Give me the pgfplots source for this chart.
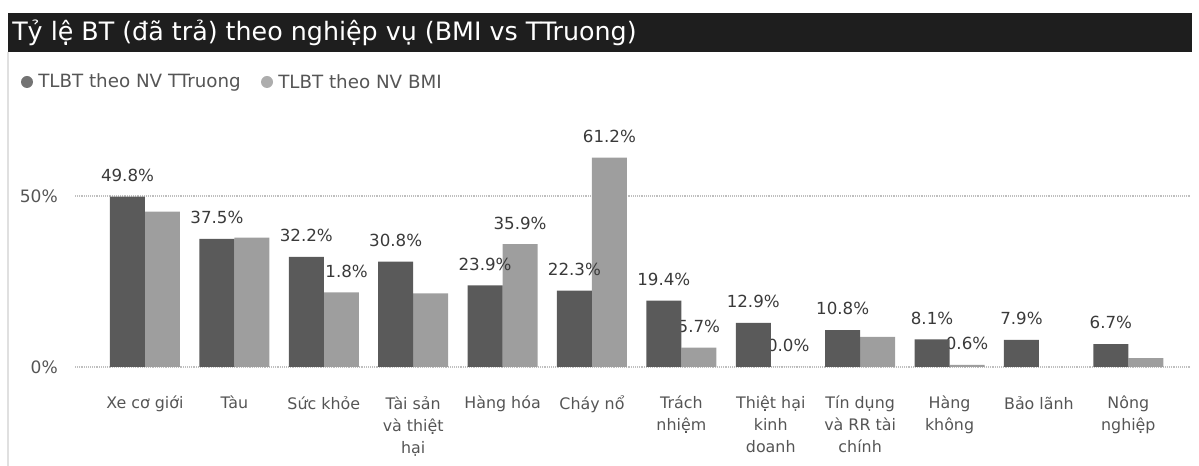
\documentclass[border=0pt]{standalone}
\usepackage{fontspec}
\setmainfont{DejaVu Sans}
\usepackage{pgfplots}
\pgfplotsset{compat=1.18}
\definecolor{barDark}{HTML}{5A5A5A}
\definecolor{barLight}{HTML}{9E9E9E}
\definecolor{lblGray}{HTML}{3A3A3A}
\definecolor{tickGray}{HTML}{555555}
\definecolor{titleBg}{HTML}{1E1E1E}

\begin{document}
\begin{tikzpicture}
% frame in image pixels, origin top left
\begin{scope}[x=0.75pt,y=-0.75pt]
  \useasboundingbox (0,0) rectangle (1199,466);
  \fill[titleBg] (8,13) rectangle (1192,52);
  \node[anchor=west, text=white, inner sep=0pt, font=\fontsize{19}{22}\selectfont]
    at (12,33) {Tỷ lệ BT (đã trả) theo nghiệp vụ (BMI vs TTruong)};
  \draw[black!12, line width=1.5pt] (8,52) -- (8,466);
  % legend
  \fill[barDark!85] (27,82) circle (6);
  \node[anchor=west, inner sep=0pt, text=tickGray, font=\fontsize{13.7}{16}\selectfont]
    at (38,82) {TLBT theo NV TTruong};
  \fill[barLight!85] (267,82) circle (6);
  \node[anchor=west, inner sep=0pt, text=tickGray, font=\fontsize{13.7}{16}\selectfont]
    at (278,82) {TLBT theo NV BMI};
\end{scope}

\begin{axis}[
  set layers,
  at={(56.25pt,-275.25pt)}, anchor=south west,
  scale only axis,
  width=836.25pt, height=179.55pt,
  xmin=-0.783, xmax=11.69,
  ymin=0, ymax=70,
  clip=false,
  axis line style={draw=none},
  tick style={draw=none},
  ymajorgrids,
  grid style={densely dotted, black!25, line width=1pt},
  ytick={0,50},
  yticklabels={0\%,50\%},
  yticklabel style={inner sep=0pt, xshift=-12.75pt, text=tickGray,
    font=\fontsize{12.8}{15}\selectfont},
  xtick={0,...,11},
  xticklabels={Xe cơ giới, Tàu, Sức khỏe, Tài sản\\và thiệt\\hại, Hàng hóa,
    Cháy nổ, Trách\\nhiệm, Thiệt hại\\kinh\\doanh, Tín dụng\\và RR tài\\chính,
    Hàng\\không, Bảo lãnh, Nông\\nghiệp},
  xticklabel style={anchor=north, align=center, inner sep=0pt, yshift=-17.5pt,
    text=tickGray, font=\fontsize{11.9}{16.5}\selectfont},
  ybar, bar width=26.25pt,
  every node near coord/.style={anchor=south, inner sep=0pt, yshift=11pt,
    text=lblGray, font=\fontsize{12.5}{15}\selectfont},
]
% BMI on the main layer; TTruong on the foreground, over the BMI labels
\addplot[fill=barLight, draw=none, bar shift=13.125pt,
  point meta=explicit symbolic, nodes near coords,
  every node near coord/.append style={xshift=13.125pt}]
  coordinates {
    (0,45.4) []
    (1,37.8) []
    (2,21.8) [21.8\%]
    (3,21.5) []
    (4,35.9) [35.9\%]
    (5,61.2) [61.2\%]
    (6,5.7) [5.7\%]
    (7,0.0) [0.0\%]
    (8,8.8) []
    (9,0.6) [0.6\%]
    (11,2.6) []
  };
\addplot[on layer=axis foreground, fill=barDark, draw=none, bar shift=-13.125pt,
  point meta=explicit symbolic, nodes near coords,
  every node near coord/.append style={xshift=-13.125pt}]
  coordinates {
    (0,49.8) [49.8\%]
    (1,37.5) [37.5\%]
    (2,32.2) [32.2\%]
    (3,30.8) [30.8\%]
    (4,23.9) [23.9\%]
    (5,22.3) [22.3\%]
    (6,19.4) [19.4\%]
    (7,12.9) [12.9\%]
    (8,10.8) [10.8\%]
    (9,8.1) [8.1\%]
    (10,7.9) [7.9\%]
    (11,6.7) [6.7\%]
  };
\end{axis}
\end{tikzpicture}
\end{document}
